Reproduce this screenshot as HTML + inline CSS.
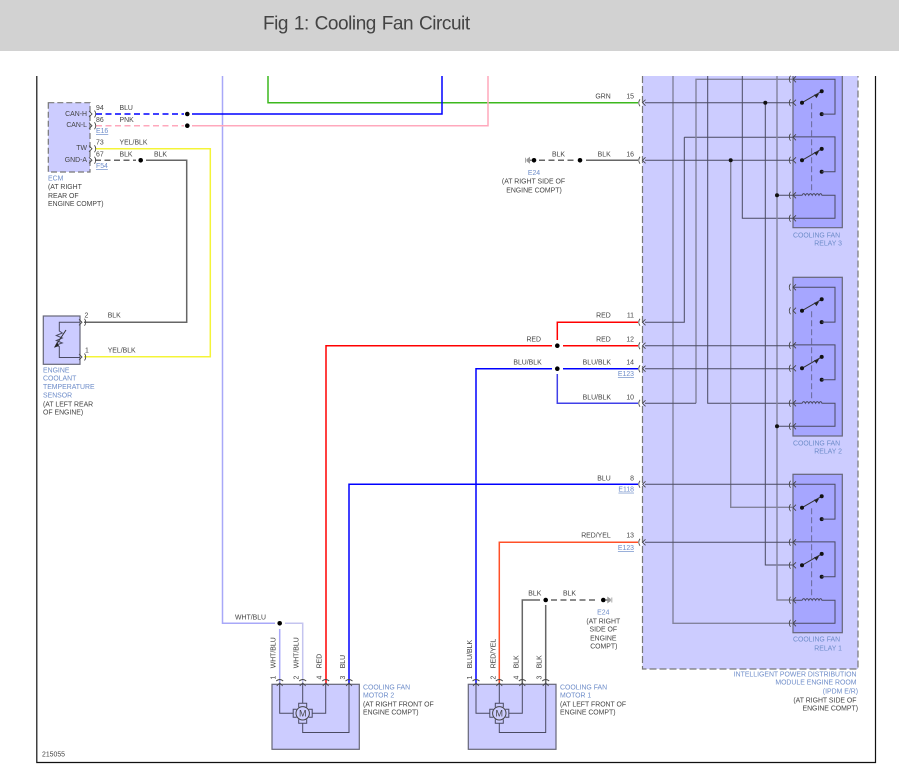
<!DOCTYPE html>
<html><head><meta charset="utf-8"><style>
html,body{margin:0;padding:0;background:#fff;width:899px;height:773px;overflow:hidden}
svg{display:block;position:absolute;left:0;top:0}
text{font-family:"Liberation Sans",sans-serif;font-size:6.9px;fill:#444}
.b{fill:#6d8cc9}
.u{fill:#6d8cc9;text-decoration:underline}
.e{text-anchor:end}
.m{text-anchor:middle}
.d{stroke:#4a4a62;stroke-width:1;fill:none}
.g{stroke:#83839c;stroke-width:1.4;fill:none}
.w{fill:none;stroke-width:1.5}
.c{fill:none;stroke:#444;stroke-width:.85}
</style></head><body>
<svg width="899" height="773" viewBox="0 0 899 773" xmlns="http://www.w3.org/2000/svg">
<defs>
<g id="pin"><path class="c" d="M-2.5,-3.5 Q-5,0 -2.5,3.5"/><path class="c" d="M3,-3 L0,0 L3,3"/></g>
<g id="pinr"><path class="c" d="M2.5,-3.5 Q5,0 2.5,3.5"/><path class="c" d="M-3,-3 L0,0 L-3,3"/></g>
<g id="pint"><path class="c" d="M-3.5,-2 Q0,-5 3.5,-2"/><path class="c" d="M-3,3 L0,0 L3,3"/></g>
<g id="sw">
<path d="M9,0 L28.7,-11.4" stroke="#333" stroke-width="1" fill="none"/>
<path d="M21,-8 L26,-9 L23.5,-4.6Z" fill="#222"/>
<circle cx="9" cy="0" r="2" fill="#111"/><circle cx="28.7" cy="-11.4" r="2" fill="#111"/><circle cx="28.7" cy="11.4" r="2" fill="#111"/>
<path d="M0,-23.4 H42 V11.4 H28.7" class="d"/>
</g>
<g id="relay">
<use href="#sw" x="793" y="23.4"/>
<use href="#sw" x="793" y="81"/>
<path d="M811.7,24 V114" stroke="#5a5a80" stroke-width=".8" stroke-dasharray="6 3" fill="none"/>
<path class="d" d="M793,116 H802 q1.7,-3.4 3.4,0 q1.7,-3.4 3.4,0 q1.7,-3.4 3.4,0 q1.7,-3.4 3.4,0 q1.7,-3.4 3.4,0 q1.7,-3.4 3,0 H835 V139 H793"/>
<use href="#pin" x="793" y="0"/><use href="#pin" x="793" y="23.4"/><use href="#pin" x="793" y="58"/><use href="#pin" x="793" y="81"/><use href="#pin" x="793" y="116"/><use href="#pin" x="793" y="139"/>
</g>
<g id="motor">
<circle cx="0" cy="0" r="6.7" fill="#ccf" stroke="#444" stroke-width="1"/>
<path class="d" fill="none" d="M-4,-6 V-10 H4 V-6 M-4,6 V10 H4 V6 M-6,-4 H-9.5 V4 H-6 M6,-4 H9.5 V4 H6"/>
<text x="0" y="3.2" class="m" style="font-size:9px">M</text>
</g>
<g id="gnd"><path d="M0,0 H-3" stroke="#777" stroke-width="1.5"/><path d="M-2,-3.5 L-5.5,-1 V1 L-2,3.5Z" fill="#999"/><path d="M-6.5,-2.5 V2.5" stroke="#aaa" stroke-width="1"/></g>
</defs>

<rect width="899" height="51" fill="#d2d2d2"/>
<text x="263" y="29.3" style="font-size:19px;fill:#444;letter-spacing:-.45px;word-spacing:1px">Fig 1: Cooling Fan Circuit</text>

<!-- frame -->
<path d="M36.8,76 V762.5 H875.5 V76" fill="none" stroke="#111" stroke-width="1.2"/>

<!-- IPDM -->
<path d="M642.5,76 V669 H858 V76" fill="#ccccff" stroke="none"/>
<path d="M642.5,76 V669 H858 V76" fill="none" stroke="#777" stroke-width="1.2" stroke-dasharray="7 3"/>
<rect x="793" y="76" width="49.3" height="151.7" fill="#a6a6ff" stroke="none"/>
<path d="M793,76 V227.7 H842.3 V76" fill="none" stroke="#667" stroke-width="1.2"/>
<rect x="793" y="277.3" width="49.3" height="158.7" fill="#a6a6ff" stroke="#667" stroke-width="1.2"/>
<rect x="793" y="474.3" width="49.3" height="158.4" fill="#a6a6ff" stroke="#667" stroke-width="1.2"/>

<!-- IPDM wiring -->
<path class="g" d="M673,76 V623.3 H793"/>
<path class="d" d="M684.3,137.3 V322.3 H645"/>
<path class="d" d="M793,137.3 H684.3"/>
<path class="g" d="M696,403.3 V79.3 H793"/>
<path class="d" d="M696,403.3 H645"/>
<path class="d" d="M707.7,76 V403.3 H793"/>
<path class="g" d="M730.7,160.3 V507.3 H793"/>
<path class="d" d="M742.3,76 V218.3 H793"/>
<path class="d" d="M765.3,102.7 V565 H793"/>
<path class="g" d="M777,76 V600 H793"/>
<path class="d" d="M645,102.7 H793 M645,160.3 H793 M777,195.3 H793 M645,345.7 H793 M645,368.7 H793 M777,426.3 H793 M645,484.3 H793 M645,542.3 H793"/>
<circle cx="765.3" cy="102.7" r="2" fill="#111"/><circle cx="730.7" cy="160.3" r="2" fill="#111"/><circle cx="777" cy="195.3" r="2" fill="#111"/><circle cx="777" cy="426.3" r="2" fill="#111"/>

<use href="#relay" y="79.3"/>
<use href="#relay" y="287.3"/>
<use href="#relay" y="484.3"/>

<!-- colored wires -->
<g>
<path class="w" stroke="#a8a8f8" d="M222.5,76 V623.3 H275"/>
<path class="w" stroke="#3cb81e" d="M268,76 V102.7 H638"/>
<path class="w" stroke="#0000ff" d="M442,76 V114 H192"/>
<path class="w" stroke="#ffa8bc" d="M488,76 V125.7 H192"/>
<path class="w" stroke="#0000ff" stroke-dasharray="6 3.5" d="M96,114 H184"/>
<path class="w" stroke="#ffa8bc" stroke-dasharray="6 3.5" d="M96,125.7 H184"/>
<path class="w" stroke="#f4f438" d="M95,148.7 H210.3 V356.7 H84"/>
<path class="w" stroke="#666" stroke-dasharray="6 3.5" d="M95,160.3 H136"/>
<path class="w" stroke="#666" d="M146,160.3 H186.7 V322.3 H84"/>
<path class="w" stroke="#ff0000" d="M326,684 V345.7 H552"/>
<path class="w" stroke="#ff0000" d="M563,345.7 H638"/>
<path class="w" stroke="#ff0000" d="M557.3,340 V322.3 H638"/>
<path class="w" stroke="#0000ff" d="M476,684 V368.7 H552"/>
<path class="w" stroke="#0000ff" d="M563,368.7 H638"/>
<path class="w" stroke="#4040e8" d="M557.3,374 V403.3 H638"/>
<path class="w" stroke="#0000ff" d="M349,684 V484.3 H638"/>
<path class="w" stroke="#ff5028" d="M499.3,684 V542.3 H638"/>
<path class="w" stroke="#666" d="M586,160.3 H638"/>
<path class="w" stroke="#666" stroke-dasharray="6 3.5" d="M539,160.3 H575"/>
<path class="w" stroke="#666" d="M545.7,605 V684 M540,600 H522.3 V684"/>
<path class="w" stroke="#666" stroke-dasharray="6 3.5" d="M551,600 H598"/>
<path class="w" stroke="#a8a8f8" d="M279.7,629 V684"/>
<path class="w" stroke="#c4c4ef" d="M285,623.3 H302.7 V684"/>
</g>

<!-- dots -->
<g fill="#000">
<circle cx="187.3" cy="114" r="2.3"/><circle cx="187.3" cy="125.7" r="2.3"/><circle cx="140.7" cy="160.3" r="2.3"/>
<circle cx="534" cy="160.3" r="2.3"/><circle cx="580" cy="160.3" r="2.3"/>
<circle cx="557.3" cy="345.7" r="2.3"/><circle cx="557.3" cy="368.7" r="2.3"/>
<circle cx="279.7" cy="623.3" r="2.3"/><circle cx="545.7" cy="600" r="2.3"/><circle cx="603.3" cy="600" r="2.3"/>
</g>
<use href="#gnd" x="532" y="160.3"/>
<g transform="translate(605.3,600) scale(-1,1)"><use href="#gnd"/></g>

<!-- IPDM pins -->
<use href="#pin" x="642.5" y="102.7"/><use href="#pin" x="642.5" y="160.3"/><use href="#pin" x="642.5" y="322.3"/><use href="#pin" x="642.5" y="345.7"/><use href="#pin" x="642.5" y="368.7"/><use href="#pin" x="642.5" y="403.3"/><use href="#pin" x="642.5" y="484.3"/><use href="#pin" x="642.5" y="542.3"/>

<!-- ECM -->
<rect x="48.3" y="102.7" width="41.7" height="69.3" fill="#ccf" stroke="#777" stroke-width="1.2" stroke-dasharray="6 3"/>
<use href="#pinr" x="92" y="114"/><use href="#pinr" x="92" y="125.7"/><use href="#pinr" x="92" y="148.7"/><use href="#pinr" x="92" y="160.3"/>
<text x="87" y="115.9" class="e">CAN-H</text><text x="87" y="127.2" class="e">CAN-L</text><text x="87" y="150.2" class="e">TW</text><text x="87" y="162" class="e">GND-A</text>
<text x="96" y="110">94</text><text x="119.5" y="110">BLU</text>
<text x="96" y="122">86</text><text x="119.5" y="122">PNK</text>
<text x="96" y="133" class="u">E16</text>
<text x="96" y="144.7">73</text><text x="119.5" y="144.7">YEL/BLK</text>
<text x="96" y="156.7">67</text><text x="119.5" y="156.7">BLK</text><text x="154" y="156.7">BLK</text>
<text x="96" y="168" class="u">F54</text>
<text x="48" y="180.7" class="b">ECM</text><text x="48" y="189">(AT RIGHT</text><text x="48" y="198">REAR OF</text><text x="48" y="206">ENGINE COMPT)</text>

<!-- Sensor -->
<rect x="43.3" y="316" width="36.7" height="48.3" fill="#ccf" stroke="#667" stroke-width="1.2"/>
<path class="d" d="M80,322.3 H59.3 V331 l3,2 l-6,2.5 l6,2.5 l-6,2.5 l6,2.5 l-6,2 l3,1.5 V357.5 H80"/>
<path d="M54.5,347.5 L66,330" stroke="#333" stroke-width="1" fill="none"/>
<path d="M54.5,347.5 L57,342 L59,346Z" fill="#222"/>
<use href="#pinr" x="82" y="322.3"/><use href="#pinr" x="82" y="357"/>
<text x="84.5" y="317.3">2</text><text x="107.7" y="317.3">BLK</text>
<text x="85" y="352.3">1</text><text x="107.7" y="352.3">YEL/BLK</text>
<text x="43" y="372.3" class="b">ENGINE</text><text x="43" y="380.3" class="b">COOLANT</text><text x="43" y="389" class="b">TEMPERATURE</text><text x="43" y="397.3" class="b">SENSOR</text>
<text x="43" y="406.3">(AT LEFT REAR</text><text x="43" y="414.7">OF ENGINE)</text>

<!-- Left-of-IPDM labels -->
<text x="610.7" y="98.3" class="e">GRN</text><text x="634" y="98.3" class="e">15</text>
<text x="565" y="156.3" class="e">BLK</text><text x="610.7" y="156.3" class="e">BLK</text><text x="634" y="156.3" class="e">16</text>
<text x="534" y="175" class="m b">E24</text><text x="533.5" y="183.7" class="m">(AT RIGHT SIDE OF</text><text x="534" y="192.3" class="m">ENGINE COMPT)</text>
<text x="610.7" y="317.3" class="e">RED</text><text x="634" y="317.3" class="e">11</text>
<text x="541" y="341.3" class="e">RED</text><text x="610.7" y="341.3" class="e">RED</text><text x="634" y="341.3" class="e">12</text>
<text x="541.7" y="364.3" class="e">BLU/BLK</text><text x="611" y="364.3" class="e">BLU/BLK</text><text x="634" y="364.3" class="e">14</text>
<text x="634" y="376" class="e u">E123</text>
<text x="611" y="399.3" class="e">BLU/BLK</text><text x="634" y="399.3" class="e">10</text>
<text x="610.7" y="480.3" class="e">BLU</text><text x="634" y="480.3" class="e">8</text>
<text x="634" y="491.7" class="e u">E118</text>
<text x="610.7" y="537.3" class="e">RED/YEL</text><text x="634" y="537.3" class="e">13</text>
<text x="634" y="550" class="e u">E123</text>

<!-- Relay labels -->
<text x="793" y="237.3" class="b">COOLING FAN</text><text x="842" y="245.3" class="e b">RELAY 3</text>
<text x="793" y="445.3" class="b">COOLING FAN</text><text x="842" y="453.3" class="e b">RELAY 2</text>
<text x="793" y="641.7" class="b">COOLING FAN</text><text x="842" y="650.3" class="e b">RELAY 1</text>
<text x="856.5" y="676.3" class="e b">INTELLIGENT POWER DISTRIBUTION</text><text x="856.5" y="684.3" class="e b">MODULE ENGINE ROOM</text><text x="858" y="693.7" class="e b">(IPDM E/R)</text>
<text x="856.5" y="702.3" class="e">(AT RIGHT SIDE OF</text><text x="858" y="710.3" class="e">ENGINE COMPT)</text>

<!-- Motor 2 -->
<rect x="272" y="684.3" width="87.3" height="65" fill="#ccf" stroke="#667" stroke-width="1.2"/>
<path class="d" d="M279.7,684 V713.3 H293 M325.7,684 V713.3 H312 M302.7,684 V703 M302.7,723 V732.5 H349 V684"/>
<use href="#motor" x="302.7" y="713.3"/>
<use href="#pint" x="279.7" y="683"/><use href="#pint" x="302.7" y="683"/><use href="#pint" x="325.7" y="683"/><use href="#pint" x="349" y="683"/>
<text transform="translate(275.5,668.3) rotate(-90)">WHT/BLU</text>
<text transform="translate(298.5,668.3) rotate(-90)">WHT/BLU</text>
<text transform="translate(321.7,668.3) rotate(-90)">RED</text>
<text transform="translate(345,668.3) rotate(-90)">BLU</text>
<text transform="translate(275.5,679.5) rotate(-90)">1</text><text transform="translate(298.5,679.5) rotate(-90)">2</text><text transform="translate(321.7,679.5) rotate(-90)">4</text><text transform="translate(345,679.5) rotate(-90)">3</text>
<text x="235" y="619.3">WHT/BLU</text>
<text x="363" y="689.3" class="b">COOLING FAN</text><text x="363" y="697.7" class="b">MOTOR 2</text><text x="363" y="706.3">(AT RIGHT FRONT OF</text><text x="363" y="714.3">ENGINE COMPT)</text>

<!-- Motor 1 -->
<rect x="468.3" y="684.3" width="87.7" height="65" fill="#ccf" stroke="#667" stroke-width="1.2"/>
<path class="d" d="M476,684 V713.3 H489.5 M522.3,684 V713.3 H508.5 M499.3,684 V703 M499.3,723 V732.5 H545.7 V684"/>
<use href="#motor" x="499.3" y="713.3"/>
<use href="#pint" x="476" y="683"/><use href="#pint" x="499.3" y="683"/><use href="#pint" x="522.3" y="683"/><use href="#pint" x="545.7" y="683"/>
<text transform="translate(472,668.3) rotate(-90)">BLU/BLK</text>
<text transform="translate(495.5,668.3) rotate(-90)">RED/YEL</text>
<text transform="translate(518.7,668.3) rotate(-90)">BLK</text>
<text transform="translate(541.7,668.3) rotate(-90)">BLK</text>
<text transform="translate(472,679.5) rotate(-90)">1</text><text transform="translate(495.5,679.5) rotate(-90)">2</text><text transform="translate(518.7,679.5) rotate(-90)">4</text><text transform="translate(541.7,679.5) rotate(-90)">3</text>
<text x="528.3" y="595.3">BLK</text><text x="563" y="595.3">BLK</text>
<text x="603.3" y="614.3" class="m b">E24</text><text x="603.3" y="623.3" class="m">(AT RIGHT</text><text x="603.3" y="631.7" class="m">SIDE OF</text><text x="603.3" y="640.3" class="m">ENGINE</text><text x="603.8" y="648.7" class="m">COMPT)</text>
<text x="560" y="689.3" class="b">COOLING FAN</text><text x="560" y="697.7" class="b">MOTOR 1</text><text x="560" y="706.3">(AT LEFT FRONT OF</text><text x="560" y="714.3">ENGINE COMPT)</text>

<text x="42" y="756.5">215055</text>
</svg>
</body></html>
